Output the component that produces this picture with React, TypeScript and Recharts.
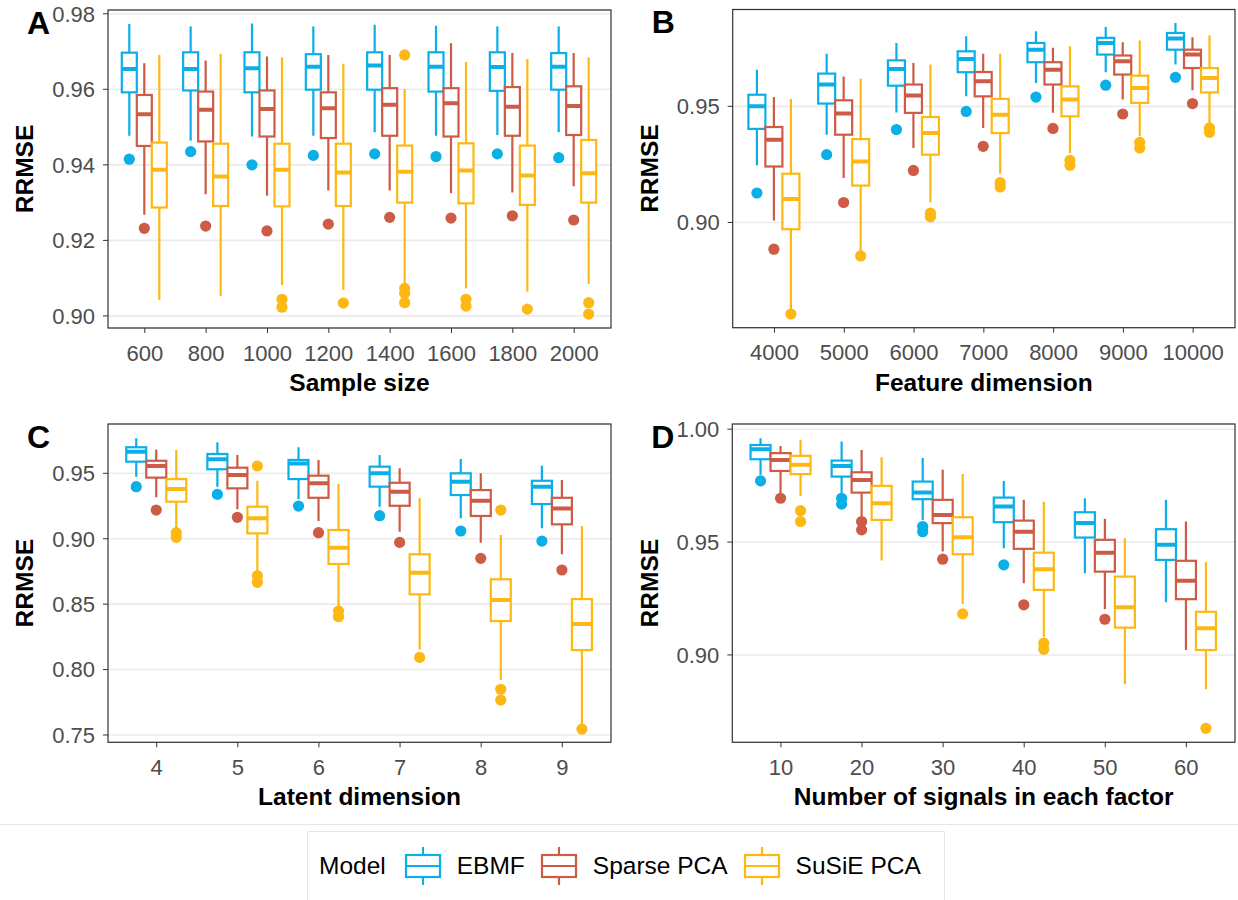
import React from "react";
import { ComposedChart, Bar, XAxis, YAxis, CartesianGrid } from "recharts";

const FONT = '"Liberation Sans", Arial, Helvetica, sans-serif';
const MODELS = ["EBMF", "Sparse PCA", "SuSiE PCA"];
const MODEL_COLORS = ["#0AAFE8", "#CD5B45", "#FDB813"];

// each box: [lower whisker, q1, median, q3, upper whisker]

// --- A: sample size ---
const sampleSizes = ["600", "800", "1000", "1200", "1400", "1600", "1800", "2000"];
const ebmfA = [
  [0.9477, 0.9592, 0.9654, 0.9697, 0.9773],
  [0.9464, 0.9597, 0.9654, 0.9698, 0.9766],
  [0.9475, 0.9592, 0.9656, 0.9698, 0.9774],
  [0.9477, 0.9599, 0.966, 0.9693, 0.9766],
  [0.9486, 0.9599, 0.9663, 0.9698, 0.9771],
  [0.9477, 0.9594, 0.966, 0.9698, 0.9768],
  [0.9479, 0.9596, 0.9659, 0.9698, 0.9766],
  [0.9486, 0.9599, 0.966, 0.9696, 0.9766],
];
const ebmfAOut = [[0.9415], [0.9435], [0.94], [0.9425], [0.9429], [0.9422], [0.9429], [0.9419]];
const spcaA = [
  [0.9268, 0.945, 0.9534, 0.9585, 0.9669],
  [0.9322, 0.9462, 0.9546, 0.9594, 0.9676],
  [0.9318, 0.9475, 0.9548, 0.9597, 0.9687],
  [0.9332, 0.9471, 0.955, 0.9592, 0.9691],
  [0.9332, 0.9477, 0.9559, 0.9603, 0.9691],
  [0.9325, 0.9475, 0.9563, 0.9603, 0.9722],
  [0.9327, 0.9477, 0.9554, 0.9606, 0.9696],
  [0.9343, 0.9479, 0.9556, 0.9608, 0.9696],
];
const spcaAOut = [[0.9232], [0.9238], [0.9225], [0.9243], [0.9261], [0.9259], [0.9265], [0.9254]];
const susieA = [
  [0.9042, 0.9287, 0.9387, 0.9459, 0.9691],
  [0.9053, 0.9291, 0.9369, 0.9456, 0.9694],
  [0.9082, 0.929, 0.9387, 0.9456, 0.9684],
  [0.9069, 0.9291, 0.938, 0.9456, 0.9668],
  [0.9082, 0.93, 0.9382, 0.9451, 0.9601],
  [0.9073, 0.9298, 0.9385, 0.9457, 0.9672],
  [0.9064, 0.9294, 0.9372, 0.9451, 0.968],
  [0.9085, 0.93, 0.9378, 0.9466, 0.9684],
];
const susieAOut = [[], [], [0.9044, 0.9023], [0.9034], [0.9691, 0.9073, 0.906, 0.9035], [0.9044, 0.9026], [0.9018], [0.9035, 0.9005]];

// --- B: feature dimension ---
const featureDims = ["4000", "5000", "6000", "7000", "8000", "9000", "10000"];
const ebmfB = [
  [0.9246, 0.9403, 0.95, 0.955, 0.9658],
  [0.9378, 0.9512, 0.9594, 0.9641, 0.9727],
  [0.9474, 0.9589, 0.9661, 0.9698, 0.9773],
  [0.9543, 0.9647, 0.9704, 0.9737, 0.9802],
  [0.9601, 0.969, 0.9744, 0.9773, 0.9823],
  [0.9647, 0.9723, 0.9773, 0.9795, 0.9842],
  [0.968, 0.9744, 0.9792, 0.9816, 0.9859],
];
const ebmfBOut = [[0.9127], [0.9292], [0.94], [0.9478], [0.954], [0.9591], [0.9625]];
const spcaB = [
  [0.9009, 0.9241, 0.9356, 0.9411, 0.954],
  [0.9191, 0.9378, 0.9469, 0.9526, 0.9629],
  [0.9321, 0.9472, 0.9547, 0.9594, 0.9687],
  [0.9407, 0.9543, 0.9608, 0.9648, 0.9727],
  [0.9472, 0.9594, 0.9658, 0.969, 0.9752],
  [0.9529, 0.9637, 0.9694, 0.9719, 0.9776],
  [0.9569, 0.9665, 0.9723, 0.9744, 0.9797],
];
const spcaBOut = [[0.8885], [0.9086], [0.9224], [0.9328], [0.9405], [0.9467], [0.9512]];
const susieB = [
  [0.862, 0.8971, 0.9101, 0.921, 0.9532],
  [0.8868, 0.9159, 0.9263, 0.9359, 0.9619],
  [0.9086, 0.9292, 0.9385, 0.9454, 0.968],
  [0.921, 0.9385, 0.9464, 0.9532, 0.9727],
  [0.9299, 0.9457, 0.9529, 0.9586, 0.9759],
  [0.9371, 0.9515, 0.9579, 0.9632, 0.9784],
  [0.9428, 0.956, 0.9622, 0.9665, 0.9805],
];
const susieBOut = [[0.8606], [0.8856], [0.904, 0.9025], [0.9172, 0.9153], [0.9267, 0.9246], [0.9345, 0.9321], [0.9407, 0.9388]];

// --- C: latent dimension ---
const latentDims = ["4", "5", "6", "7", "8", "9"];
const ebmfC = [
  [0.9474, 0.9589, 0.9665, 0.9699, 0.9768],
  [0.9398, 0.9531, 0.9607, 0.9648, 0.9737],
  [0.9301, 0.9456, 0.9576, 0.9602, 0.9699],
  [0.9245, 0.9398, 0.95, 0.9551, 0.964],
  [0.9156, 0.9334, 0.9436, 0.95, 0.9609],
  [0.908, 0.9265, 0.9398, 0.9443, 0.9558],
];
const ebmfCOut = [[0.9398], [0.9339], [0.925], [0.9176], [0.9059], [0.8982]];
const spcaC = [
  [0.9317, 0.9467, 0.9556, 0.9596, 0.9683],
  [0.9225, 0.9385, 0.9487, 0.9543, 0.964],
  [0.9135, 0.9313, 0.9424, 0.9482, 0.9602],
  [0.9054, 0.9252, 0.9359, 0.9428, 0.9538],
  [0.897, 0.9174, 0.9291, 0.9372, 0.95],
  [0.8881, 0.911, 0.9232, 0.9313, 0.9449],
];
const spcaCOut = [[0.9219], [0.9164], [0.9046], [0.8972], [0.885], [0.8761]];
const susieC = [
  [0.9067, 0.9283, 0.938, 0.9456, 0.9678],
  [0.8748, 0.9041, 0.9156, 0.9245, 0.9443],
  [0.8468, 0.8807, 0.8931, 0.9067, 0.9418],
  [0.8154, 0.8575, 0.874, 0.8881, 0.9309],
  [0.792, 0.8371, 0.8531, 0.869, 0.9028],
  [0.7576, 0.8149, 0.8348, 0.8539, 0.9097],
];
const susieCOut = [[0.9046, 0.9011], [0.9556, 0.8717, 0.8667], [0.8447, 0.8404], [0.8093], [0.9219, 0.7849, 0.7767], [0.7545]];

// --- D: number of signals ---
const signalCounts = ["10", "20", "30", "40", "50", "60"];
const ebmfD = [
  [0.9798, 0.9867, 0.9911, 0.993, 0.996],
  [0.9709, 0.979, 0.9837, 0.9861, 0.9945],
  [0.9598, 0.969, 0.972, 0.9768, 0.9872],
  [0.9473, 0.9588, 0.9657, 0.9697, 0.9771],
  [0.9362, 0.952, 0.9584, 0.9632, 0.9694],
  [0.9233, 0.9421, 0.9488, 0.9557, 0.9687],
];
const ebmfDOut = [[0.9771], [0.9694, 0.9668], [0.9569, 0.9546], [0.9399], [], []];
const spcaD = [
  [0.9716, 0.9815, 0.9864, 0.9894, 0.9926],
  [0.9613, 0.9719, 0.9775, 0.9809, 0.9908],
  [0.9458, 0.9584, 0.962, 0.9687, 0.982],
  [0.9318, 0.947, 0.9546, 0.9595, 0.9687],
  [0.9202, 0.9369, 0.9453, 0.951, 0.9603],
  [0.9022, 0.9247, 0.9329, 0.9417, 0.9591],
];
const spcaDOut = [[0.9694], [0.9591, 0.9554], [0.9424], [0.9222], [0.9158], []];
const susieD = [
  [0.9704, 0.9801, 0.9842, 0.9882, 0.9953],
  [0.9418, 0.9598, 0.9672, 0.9749, 0.9876],
  [0.9226, 0.9446, 0.9521, 0.961, 0.9802],
  [0.9081, 0.9288, 0.938, 0.9453, 0.9679],
  [0.887, 0.9121, 0.9211, 0.9347, 0.9517],
  [0.8848, 0.9022, 0.9118, 0.9191, 0.9411],
];
const susieDOut = [[0.9639, 0.9591], [], [0.9182], [0.9052, 0.9025], [], [0.8675]];

const Y_AXIS_W = 60;
const X_AXIS_H = 40;

// box drawn inside the range bar [q1, q3]; whiskers/median/outliers use the
// same pixels-per-unit that Recharts gave the bar
function makeBoxShape(color: string, m: number) {
  return (props: any) => {
    const { x, y, width, height, payload } = props;
    const [lo, q1, med, q3, hi] = payload[`stats${m}`];
    const k = height / (q3 - q1);
    const py = (v: number) => y + (q3 - v) * k;
    const cx = x + width / 2;
    return (
      <g>
        <line x1={cx} x2={cx} y1={py(hi)} y2={y} stroke={color} strokeWidth={2.2} />
        <line x1={cx} x2={cx} y1={y + height} y2={py(lo)} stroke={color} strokeWidth={2.2} />
        <rect x={x} y={y} width={width} height={height} fill="#fff" stroke={color} strokeWidth={2.2} />
        <line x1={x} x2={x + width} y1={py(med)} y2={py(med)} stroke={color} strokeWidth={4} />
        {payload[`out${m}`].map((v: number, i: number) => (
          <circle key={i} cx={cx} cy={py(v)} r={5.6} fill={color} />
        ))}
      </g>
    );
  };
}

interface PanelProps {
  letter: string;
  xTitle: string;
  categories: string[];
  stats: number[][][];
  outliers: number[][][];
  domain: [number, number];
  ticks: number[];
  left: number;
  top: number;
  width: number;
  height: number;
  margin: { top: number; right: number; bottom: number; left: number };
}

function BoxPanel({ letter, xTitle, categories, stats, outliers, domain, ticks, left, top, width, height, margin }: PanelProps) {
  const rows = categories.map((cat, i) => {
    const row: any = { cat };
    stats.forEach((s, m) => {
      row[`box${m}`] = [s[i][1], s[i][3]];
      row[`stats${m}`] = s[i];
      row[`out${m}`] = outliers[m][i];
    });
    return row;
  });

  const plotX = margin.left + Y_AXIS_W;
  const plotY = margin.top;
  const plotW = width - margin.left - margin.right - Y_AXIS_W;
  const plotH = height - margin.top - margin.bottom - X_AXIS_H;
  // ggplot discrete expansion of 0.6 units on each side
  const pad = (0.1 * plotW) / (categories.length + 0.2);

  const tickStyle = { fill: "#4d4d4d", fontSize: 22, fontFamily: FONT };

  return (
    <div style={{ position: "absolute", left, top, width, height }}>
      <ComposedChart width={width} height={height} data={rows} margin={margin} barCategoryGap="12.5%" barGap={0}>
        <CartesianGrid vertical={false} stroke="#ebebeb" strokeWidth={1.6} />
        <XAxis
          dataKey="cat"
          type="category"
          padding={{ left: pad, right: pad }}
          height={X_AXIS_H}
          tick={tickStyle}
          tickSize={5}
          tickMargin={12}
          tickLine={{ stroke: "#333" }}
          axisLine={false}
          label={{
            content: ({ viewBox }: any) => (
              <text
                x={viewBox.x + viewBox.width / 2}
                y={viewBox.y + 63}
                textAnchor="middle"
                fontFamily={FONT}
                fontSize={24.5}
                fontWeight="bold"
                fill="#000"
              >
                {xTitle}
              </text>
            ),
          }}
        />
        <YAxis
          type="number"
          domain={domain}
          ticks={ticks}
          allowDataOverflow
          width={Y_AXIS_W}
          tickFormatter={(v: number) => v.toFixed(2)}
          tick={tickStyle}
          tickSize={5}
          tickMargin={8}
          tickLine={{ stroke: "#333" }}
          axisLine={false}
          label={{
            content: ({ viewBox }: any) => {
              const cx = viewBox.x + viewBox.width - 83.5;
              const cy = viewBox.y + viewBox.height / 2;
              return (
                <text
                  x={cx}
                  y={cy}
                  dy="0.36em"
                  transform={`rotate(-90, ${cx}, ${cy})`}
                  textAnchor="middle"
                  fontFamily={FONT}
                  fontSize={24.5}
                  fontWeight="bold"
                  fill="#000"
                >
                  RRMSE
                </text>
              );
            },
          }}
        />
        {MODELS.map((name, m) => (
          <Bar
            key={name}
            name={name}
            dataKey={`box${m}`}
            fill={MODEL_COLORS[m]}
            isAnimationActive={false}
            shape={makeBoxShape(MODEL_COLORS[m], m)}
          />
        ))}
      </ComposedChart>
      {/* panel border + tag letter */}
      <svg width={width} height={height} style={{ position: "absolute", left: 0, top: 0, pointerEvents: "none" }}>
        <rect x={plotX} y={plotY} width={plotW} height={plotH} fill="none" stroke="#333" strokeWidth={1.2} />
        <text x={plotX - 81} y={plotY + 23.5} fontFamily={FONT} fontSize={32} fontWeight="bold" fill="#000">
          {letter}
        </text>
      </svg>
    </div>
  );
}

function LegendKey({ color }: { color: string }) {
  return (
    <svg width={38} height={40} style={{ display: "block" }}>
      <line x1={19} x2={19} y1={1} y2={39} stroke={color} strokeWidth={2.2} />
      <rect x={2} y={9} width={34} height={22} fill="#fff" stroke={color} strokeWidth={2.2} />
      <line x1={2} x2={36} y1={20} y2={20} stroke={color} strokeWidth={2.2} />
    </svg>
  );
}

function ModelLegend() {
  return (
    <div
      style={{
        position: "absolute",
        left: 307,
        top: 831,
        width: 638,
        height: 80,
        border: "1px solid #e6e6e6",
        boxSizing: "border-box",
        display: "flex",
        alignItems: "center",
        paddingLeft: 11,
        paddingBottom: 10,
        fontFamily: FONT,
        fontSize: 24.5,
        color: "#000",
      }}
    >
      <span style={{ marginRight: 18 }}>Model</span>
      {MODELS.map((name, m) => (
        <React.Fragment key={name}>
          <LegendKey color={MODEL_COLORS[m]} />
          <span style={{ marginLeft: 15, marginRight: 15 }}>{name}</span>
        </React.Fragment>
      ))}
    </div>
  );
}

export default function App() {
  return (
    <div style={{ position: "absolute", left: 0, top: 0, width: 1238, height: 900, background: "#fff", overflow: "hidden" }}>
      <BoxPanel
        letter="A"
        xTitle="Sample size"
        categories={sampleSizes}
        stats={[ebmfA, spcaA, susieA]}
        outliers={[ebmfAOut, spcaAOut, susieAOut]}
        domain={[0.8968, 0.981]}
        ticks={[0.9, 0.92, 0.94, 0.96, 0.98]}
        left={0}
        top={0}
        width={620}
        height={410}
        margin={{ top: 10, right: 9, bottom: 42, left: 48 }}
      />
      <BoxPanel
        letter="B"
        xTitle="Feature dimension"
        categories={featureDims}
        stats={[ebmfB, spcaB, susieB]}
        outliers={[ebmfBOut, spcaBOut, susieBOut]}
        domain={[0.8547, 0.9917]}
        ticks={[0.9, 0.95]}
        left={620}
        top={0}
        width={618}
        height={410}
        margin={{ top: 9.5, right: 3, bottom: 42.3, left: 52.7 }}
      />
      <BoxPanel
        letter="C"
        xTitle="Latent dimension"
        categories={latentDims}
        stats={[ebmfC, spcaC, susieC]}
        outliers={[ebmfCOut, spcaCOut, susieCOut]}
        domain={[0.7444, 0.9877]}
        ticks={[0.75, 0.8, 0.85, 0.9, 0.95]}
        left={0}
        top={410}
        width={620}
        height={410}
        margin={{ top: 14, right: 9, bottom: 37.7, left: 48 }}
      />
      <BoxPanel
        letter="D"
        xTitle="Number of signals in each factor"
        categories={signalCounts}
        stats={[ebmfD, spcaD, susieD]}
        outliers={[ebmfDOut, spcaDOut, susieDOut]}
        domain={[0.8613, 1.0023]}
        ticks={[0.9, 0.95, 1.0]}
        left={620}
        top={410}
        width={618}
        height={410}
        margin={{ top: 14, right: 3, bottom: 37.7, left: 52.3 }}
      />
      <div style={{ position: "absolute", left: 0, top: 824, width: 1238, borderTop: "1px solid #e6e6e6" }} />
      <ModelLegend />
    </div>
  );
}
